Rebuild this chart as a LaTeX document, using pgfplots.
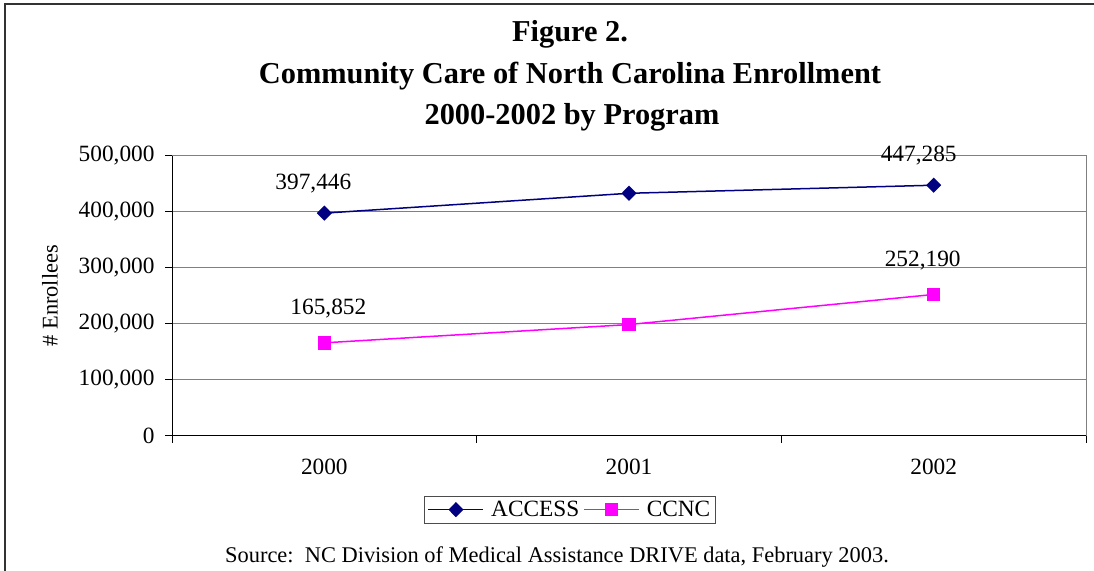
\documentclass[border=0pt]{standalone}
\usepackage{fontspec}
\setmainfont{Liberation Serif}
\usepackage{pgfplots}
\pgfplotsset{compat=1.18}
\definecolor{navyc}{RGB}{0,0,128}
\definecolor{magc}{RGB}{255,0,255}
\newcommand\fs{\fontsize{22.5}{26}\selectfont}
\newcommand\ts{\fontsize{23.4}{27}\selectfont}
\newcommand\tfs{\fontsize{30.5}{34}\selectfont\bfseries}
\begin{document}
\begin{tikzpicture}[x=1bp,y=1bp]
\useasboundingbox (0,0) rectangle (1094,-571);
\begin{scope}
\clip (0,0) rectangle (1094,-571);
\draw[line width=2bp, black!80] (5,-700) -- (5,-4) -- (1200,-4);
\end{scope}
\node[font=\tfs] at (570,-34) {Figure 2.};
\node[font=\tfs] at (570,-76) {Community Care of North Carolina Enrollment};
\node[font=\tfs] at (572,-117) {2000-2002 by Program};
\node[font=\fs] at (557,-557) {Source:\ \ NC Division of Medical Assistance DRIVE data, February 2003.};
\begin{axis}[
  at={(172bp,-435.7bp)}, anchor=south west,
  scale only axis, width=914bp, height=280bp,
  xmin=-0.5, xmax=2.5, ymin=0, ymax=500000,
  xtick={-0.5,0.5,1.5,2.5}, x tick label as interval,
  xticklabels={2000,2001,2002},
  ytick={0,100000,200000,300000,400000,500000},
  scaled y ticks=false,
  yticklabel style={/pgf/number format/.cd, fixed, 1000 sep={,}, /tikz/.cd, xshift=-7bp},
  xticklabel style={yshift=-13bp},
  /pgf/number format/assume math mode=true,
  ymajorgrids, major grid style={gray, line width=1bp},
  axis line style={gray, line width=1bp},
  tick style={black, line width=1bp}, tick align=outside, major tick length=7bp,
  xtick pos=bottom, ytick pos=left,
  ticklabel style={font=\ts},
  ylabel={\# Enrollees},
  ylabel style={font=\fs, at={(axis description cs:-0.1335,0.5)}, anchor=center},
  legend style={at={(axis description cs:0.4354,-0.264)}, anchor=center,
    legend columns=2, draw=black!70, font=\ts,
    inner sep=3bp,
    /tikz/every odd column/.append style={column sep=5bp},
    /tikz/every even column/.append style={column sep=2bp}},
  legend image post style={line width=1.5bp},
  legend image code/.code={\draw[mark repeat=2,mark phase=2] plot coordinates {(0bp,0bp)(27.5bp,0bp)(55bp,0bp)};},
  clip=false,
]
\draw[black, line width=1bp] (rel axis cs:0,1) -- (rel axis cs:0,0) -- (rel axis cs:1,0);
\addplot[navyc, line width=1.5bp, mark=diamond*, mark size=6.5bp, mark options={xscale=1.33, solid}] coordinates {(0,397446) (1,432900) (2,447285)};
\addlegendentry{ACCESS}
\addplot[magc, line width=1.5bp, mark=square*, mark size=6bp] coordinates {(0,165852) (1,198500) (2,252190)};
\addlegendentry{CCNC}
\node[font=\ts, xshift=-11bp, yshift=30bp] at (axis cs:0,397446) {397,446};
\node[font=\ts, xshift=-15bp, yshift=30bp] at (axis cs:2,447285) {447,285};
\node[font=\ts, xshift=4bp, yshift=34bp] at (axis cs:0,165852) {165,852};
\node[font=\ts, xshift=-11bp, yshift=34bp] at (axis cs:2,252190) {252,190};
\end{axis}
\end{tikzpicture}
\end{document}
